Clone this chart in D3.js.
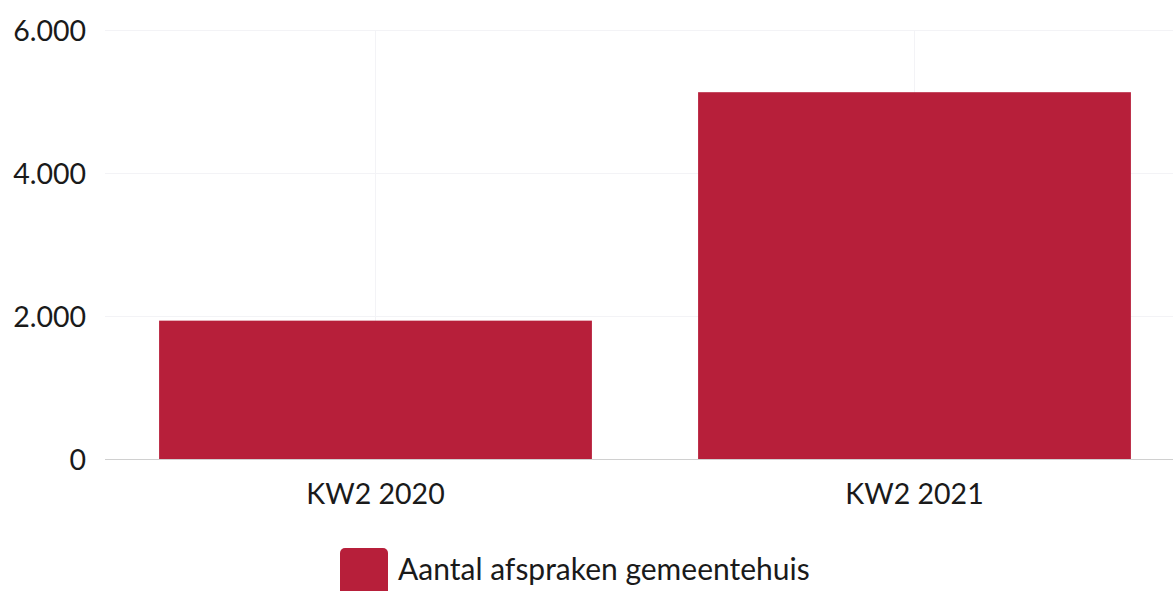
<!DOCTYPE html>
<html>
<head>
<meta charset="utf-8">
<script src="https://cdn.jsdelivr.net/npm/d3@7"></script>
<style>
  body { margin: 0; background: #fff; }
  svg { display: block; font-family: Lato, "Open Sans", sans-serif; }
  .tick text { fill: #1a1a1a; }
</style>
</head>
<body>
<script>
var width = 1173,
  height = 591,
  categories = ["KW2 2020", "KW2 2021"],
  values = [1935, 5130],
  yTicks = [0, 2000, 4000, 6000],
  seriesName = "Aantal afspraken gemeentehuis",
  barColor = "#b71f3a";

var svg = d3.select("body")
  .append("svg")
  .attr("width", width)
  .attr("height", height);

var fmt = d3.formatLocale({ decimal: ",", thousands: ".", grouping: [3], currency: ["€", ""] }).format(",d");

//----------scales----------
var xScale = d3.scaleBand()
  .domain(categories)
  .range([106, 1184])
  .paddingInner(0.197)
  .paddingOuter(0.0985);

var yScale = d3.scaleLinear()
  .domain([0, 6000])
  .range([459, 30]);

//----------grid----------
svg.append("g")
  .selectAll("line")
  .data(yTicks.slice(1))
  .enter()
  .append("line")
  .attr("x1", 105)
  .attr("x2", width)
  .attr("y1", function (d) { return yScale(d) + 0.5; })
  .attr("y2", function (d) { return yScale(d) + 0.5; })
  .attr("stroke", "#f3f3f6");

svg.append("g")
  .selectAll("line")
  .data(categories)
  .enter()
  .append("line")
  .attr("x1", function (d) { return xScale(d) + xScale.bandwidth() / 2; })
  .attr("x2", function (d) { return xScale(d) + xScale.bandwidth() / 2; })
  .attr("y1", 30)
  .attr("y2", 459)
  .attr("stroke", "#f3f3f6");

//----------bars----------
svg.selectAll("rect.bar")
  .data(values)
  .enter()
  .append("rect")
  .attr("class", "bar")
  .attr("x", function (d, i) { return xScale(categories[i]); })
  .attr("width", xScale.bandwidth())
  .attr("y", function (d) { return yScale(d); })
  .attr("height", function (d) { return yScale(0) - yScale(d); })
  .attr("fill", barColor);

// baseline
svg.append("line")
  .attr("x1", 105)
  .attr("x2", width)
  .attr("y1", yScale(0) + 0.5)
  .attr("y2", yScale(0) + 0.5)
  .attr("stroke", "#d0d0d0");

//----------axes----------
var yAxis = d3.axisLeft(yScale)
  .tickValues(yTicks)
  .tickFormat(fmt)
  .tickSize(0)
  .tickPadding(0);

svg.append("g")
  .attr("transform", "translate(86,0)")
  .call(yAxis)
  .call(function (g) { g.select(".domain").remove(); })
  .selectAll("text")
  .attr("font-size", 28.5)
  .attr("font-family", "Lato, sans-serif")
  .attr("dy", "0.36em");

var xAxis = d3.axisBottom(xScale)
  .tickSize(0)
  .tickPadding(0);

svg.append("g")
  .attr("transform", "translate(0,504)")
  .call(xAxis)
  .call(function (g) { g.select(".domain").remove(); })
  .selectAll("text")
  .attr("font-size", 28.5)
  .attr("font-family", "Lato, sans-serif")
  .attr("dy", 0);

//----------legend----------
var legend = svg.append("g").attr("transform", "translate(340,548)");

legend.append("rect")
  .attr("width", 48)
  .attr("height", 52)
  .attr("rx", 5)
  .attr("fill", barColor);

legend.append("text")
  .attr("x", 58)
  .attr("y", 32)
  .attr("font-size", 30)
  .attr("fill", "#1a1a1a")
  .text(seriesName);
</script>
</body>
</html>
